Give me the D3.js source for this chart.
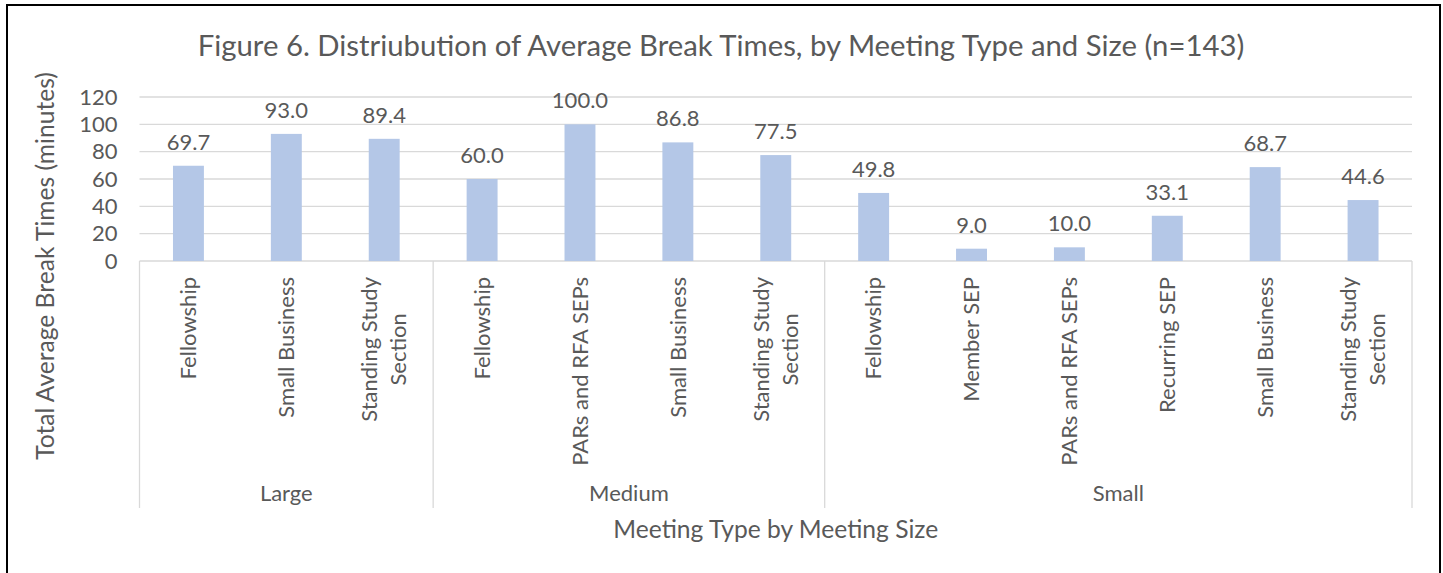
<!DOCTYPE html>
<html>
<head>
<meta charset="utf-8">
<script src="https://cdn.jsdelivr.net/npm/d3@7"></script>
<style>
  body { margin: 0; background: #fff; }
  text { font-family: Lato, "Open Sans", sans-serif; fill: #595959; }
</style>
</head>
<body>
<svg width="1443" height="573"></svg>
<script>
// data
const sizes = ["Large", "Medium", "Small"];
const meetingTypes = [
  ["Fellowship", "Small Business", "Standing Study Section"],
  ["Fellowship", "PARs and RFA SEPs", "Small Business", "Standing Study Section"],
  ["Fellowship", "Member SEP", "PARs and RFA SEPs", "Recurring SEP", "Small Business", "Standing Study Section"]
];
const breakMinutes = [
  [69.7, 93.0, 89.4],
  [60.0, 100.0, 86.8, 77.5],
  [49.8, 9.0, 10.0, 33.1, 68.7, 44.6]
];
const yTicks = [0, 20, 40, 60, 80, 100, 120];

const title = "Figure 6. Distriubution of Average Break Times, by Meeting Type and Size (n=143)";
const yTitle = "Total Average Break Times (minutes)";
const xTitle = "Meeting Type by Meeting Size";

// flatten into one row per bar
const rows = [];
sizes.forEach((s, i) => {
  meetingTypes[i].forEach((t, j) => {
    rows.push({ id: s + "|" + t, size: s, type: t, value: breakMinutes[i][j] });
  });
});

const svg = d3.select("svg");
const plotL = 139.5, plotR = 1412, plotT = 97, plotB = 261, sepB = 508;

// chart frame
svg.append("rect")
  .attr("x", 7).attr("y", 5)
  .attr("width", 1433).attr("height", 600)
  .attr("fill", "none").attr("stroke", "#000").attr("stroke-width", 2);

const x = d3.scaleBand()
  .domain(rows.map(d => d.id))
  .range([plotL, plotR])
  .paddingInner(0.684)
  .paddingOuter(0.342);

const y = d3.scaleLinear().domain([0, 120]).range([plotB, plotT]);

// gridlines
svg.append("g").selectAll("line").data(yTicks).enter().append("line")
  .attr("x1", plotL).attr("x2", plotR)
  .attr("y1", d => y(d)).attr("y2", d => y(d))
  .attr("stroke", "#d9d9d9").attr("stroke-width", 1.3);

// y axis labels
const yAxis = svg.append("g")
  .attr("transform", `translate(${plotL - 22},0)`)
  .call(d3.axisLeft(y).tickValues(yTicks).tickSize(0).tickPadding(0));
yAxis.select(".domain").remove();
yAxis.selectAll("text")
  .attr("font-size", 22).attr("font-family", "Lato").attr("fill", "#595959");

// bars
svg.append("g").selectAll("rect").data(rows).enter().append("rect")
  .attr("x", d => x(d.id))
  .attr("y", d => y(d.value))
  .attr("width", x.bandwidth())
  .attr("height", d => plotB - y(d.value))
  .attr("fill", "#b4c7e7");

// value labels
svg.append("g").selectAll("text").data(rows).enter().append("text")
  .attr("x", d => x(d.id) + x.bandwidth() / 2)
  .attr("y", d => y(d.value) - 16)
  .attr("text-anchor", "middle")
  .attr("font-size", 22)
  .text(d => d.value.toFixed(1));

// group separators
const step = x.step();
const bounds = [plotL];
let k = 0;
meetingTypes.forEach(g => { k += g.length; bounds.push(plotL + k * step); });
bounds[bounds.length - 1] = plotR;
svg.append("g").selectAll("line").data(bounds).enter().append("line")
  .attr("x1", d => d).attr("x2", d => d)
  .attr("y1", plotB).attr("y2", sepB)
  .attr("stroke", "#d9d9d9").attr("stroke-width", 1.3);

// category labels (rotated, wrapped when too long)
const lineH = 29;
rows.forEach(d => {
  const cx = x(d.id) + x.bandwidth() / 2;
  const g = svg.append("g").attr("transform", `translate(${cx},277) rotate(-90)`);
  const t = g.append("text").attr("font-size", 22).attr("text-anchor", "end").text(d.type);
  const w = t.node().getComputedTextLength();
  if (w > 200) {
    const words = d.type.split(" ");
    const lines = [words.slice(0, -1).join(" "), words[words.length - 1]];
    t.remove();
    const tt = g.append("text").attr("font-size", 22).attr("text-anchor", "middle");
    const spans = lines.map((l, i) => tt.append("tspan").attr("x", 0)
      .attr("y", (i - (lines.length - 1) / 2) * lineH).attr("dy", "0.35em").text(l));
    const maxW = d3.max(spans, s => s.node().getComputedTextLength());
    spans.forEach(s => s.attr("x", -maxW / 2));
  } else {
    t.attr("dy", "0.35em");
  }
});

// group labels
sizes.forEach((s, i) => {
  svg.append("text")
    .attr("x", (bounds[i] + bounds[i + 1]) / 2)
    .attr("y", 501)
    .attr("text-anchor", "middle")
    .attr("font-size", 22)
    .text(s);
});

// titles
svg.append("text")
  .attr("x", 721).attr("y", 56)
  .attr("text-anchor", "middle")
  .attr("font-size", 29.3)
  .text(title);

svg.append("text")
  .attr("transform", `translate(54,266) rotate(-90)`)
  .attr("text-anchor", "middle")
  .attr("font-size", 24.6)
  .text(yTitle);

svg.append("text")
  .attr("x", (plotL + plotR) / 2).attr("y", 538)
  .attr("text-anchor", "middle")
  .attr("font-size", 24.6)
  .text(xTitle);
</script>
</body>
</html>
